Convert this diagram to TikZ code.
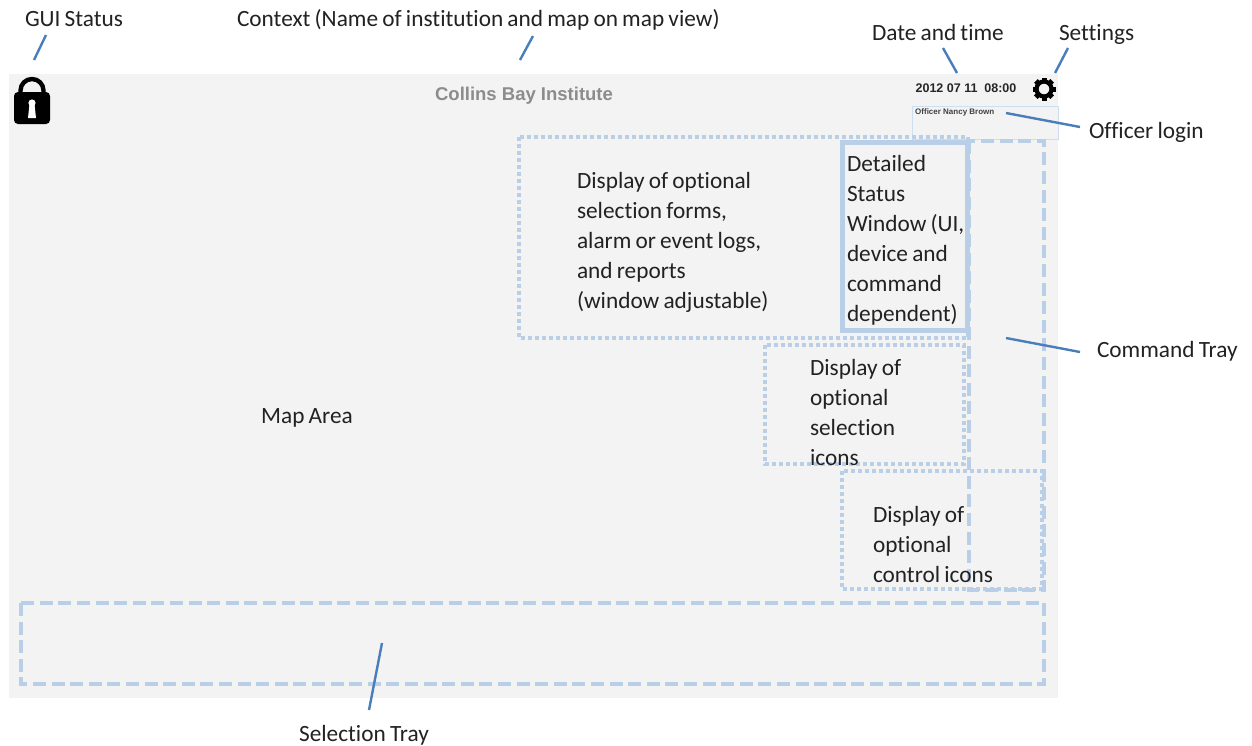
\documentclass[tikz,border=0pt]{standalone}
\usepackage{fontspec}
\setmainfont[Ligatures=NoCommon,WordSpace=0.8]{Carlito}
\newfontfamily\arialf{Liberation Sans}
\definecolor{panel}{HTML}{F3F3F3}
\definecolor{lineblue}{HTML}{B9CFE8}
\definecolor{leader}{HTML}{4A7EBB}
\definecolor{inktext}{HTML}{222222}
\begin{document}
\begin{tikzpicture}[x=1pt,y=-1pt,
  lbl/.style={font=\fontsize{23.3}{30}\selectfont,text=inktext,inner sep=0pt,outer sep=0pt},
  blockl/.style={lbl,align=left,anchor=north west},
  tray/.style={draw=lineblue,line width=4pt,dash pattern=on 13pt off 5.6pt},
  optbox/.style={draw=lineblue,line width=4pt,dash pattern=on 3.6pt off 3.4pt},
  leaderl/.style={draw=leader,line width=2.4pt},
  stamp/.style={font=\arialf\bfseries,inner sep=0pt}]
\useasboundingbox (0,0) rectangle (1252,745);
\fill[white] (0,0) rectangle (1252,745);
\fill[panel] (9,74) rectangle (1058,698);

% officer box
\draw[draw=lineblue!70,line width=0.8pt] (912,106) rectangle (1058,139);

% trays and windows
\draw[tray] (21,603) rectangle (1044,684);
\draw[tray] (969,141) rectangle (1044,590);
\draw[optbox] (519,137) rectangle (968,338);
\draw[optbox] (765,345) rectangle (964,464);
\draw[optbox] (842,471) rectangle (1042,589);
\draw[draw=lineblue,line width=5pt] (842,142) rectangle (967,330);

% lock
\fill[black,rounded corners=4pt] (14,92) rectangle (50,124);
\draw[black,line width=4.4pt] (20.5,95) -- (20.5,90.5) arc[start angle=180,end angle=0,radius=11.5pt] -- (43.5,95);
\fill[white] (32,103) circle[radius=3.6pt];
\fill[white] (29.5,104) -- (34.5,104) -- (36,118) -- (28,118) -- cycle;

% gear
\draw[black,line width=4.2pt] (1044,89) circle[radius=7.5pt];
\foreach \a in {0,45,...,315}{
  \fill[black,rotate around={\a:(1044,89)}] (1041.5,77.5) rectangle (1046.5,82);
}

% panel texts
\node[stamp,text=black!45,font=\arialf\bfseries\fontsize{18.5}{20}\selectfont,anchor=center] (inst) at (524,95.5) {Collins Bay Institute};
\node[stamp,text=black!85,font=\arialf\bfseries\fontsize{12.5}{14}\selectfont,anchor=center] (dt) at (966,88) {2012 07 11\ \ 08:00};
\node[stamp,text=black!75,font=\arialf\bfseries\fontsize{8}{9}\selectfont,anchor=west] (off) at (915,112.5) {Officer Nancy Brown};

\node[blockl] (win) at (577,172) {Display of optional\\selection forms,\\alarm or event logs,\\and reports\\(window adjustable)};
\node[blockl] (det) at (847,155) {Detailed\\Status\\Window (UI,\\device and\\command\\dependent)};
\node[blockl] (sel) at (810,359) {Display of\\optional\\selection\\icons};
\node[blockl] (ctl) at (873,506) {Display of\\optional\\control icons};
\node[lbl,anchor=center] (map) at (307,418) {Map Area};

% outer labels
\node[lbl,anchor=west] (gui) at (25,19) {GUI Status};
\node[lbl,anchor=west] (ctx) at (237,20) {Context (Name of institution and map on map view)};
\node[lbl,anchor=west] (date) at (872,32) {Date and time};
\node[lbl,anchor=west] (set) at (1059,34) {Settings};
\node[lbl,anchor=west] (olog) at (1089,132.5) {Officer login};
\node[lbl,anchor=west] (cmd) at (1097,351) {Command Tray};
\node[lbl,anchor=center] (stray) at (364,735) {Selection Tray};

% leader ends
\coordinate (g1) at (46,35); \coordinate (g2) at (34,60);
\coordinate (c1) at (533,36); \coordinate (c2) at (520,60);
\coordinate (d1) at (943,48); \coordinate (d2) at (957,73);
\coordinate (s1) at (1068,48); \coordinate (s2) at (1055,73);
\coordinate (o1) at (1006,113); \coordinate (o2) at (1080,127);
\coordinate (t1) at (1006,338); \coordinate (t2) at (1080,352);
\coordinate (y1) at (382,643); \coordinate (y2) at (369,710);
\draw[leaderl] (g1) -- (g2);
\draw[leaderl] (c1) -- (c2);
\draw[leaderl] (d1) -- (d2);
\draw[leaderl] (s1) -- (s2);
\draw[leaderl] (o1) -- (o2);
\draw[leaderl] (t1) -- (t2);
\draw[leaderl] (y1) -- (y2);
\end{tikzpicture}
\end{document}
